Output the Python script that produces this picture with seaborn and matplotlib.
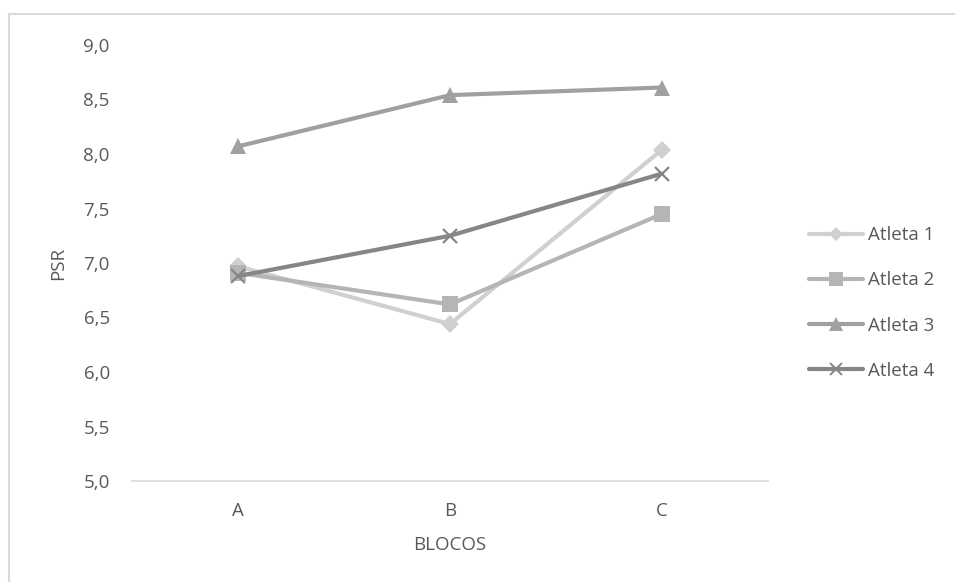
import numpy as np
import pandas as pd
import matplotlib
matplotlib.use("Agg")
import matplotlib.pyplot as plt
from matplotlib.ticker import FuncFormatter
from matplotlib.lines import Line2D
import seaborn as sns

#---- data ----#
blocos = ["A", "B", "C"]
atleta_1 = [6.97, 6.44, 8.04]
atleta_2 = [6.91, 6.62, 7.45]
atleta_3 = [8.07, 8.54, 8.61]
atleta_4 = [6.88, 7.25, 7.82]

nomes = ["Atleta 1", "Atleta 2", "Atleta 3", "Atleta 4"]
series = [atleta_1, atleta_2, atleta_3, atleta_4]

df = pd.DataFrame({
    "BLOCOS": blocos * 4,
    "PSR": atleta_1 + atleta_2 + atleta_3 + atleta_4,
    "atleta": [n for n in nomes for _ in blocos],
})

#---- style ----#
sns.set_style("white")
plt.rcParams["font.family"] = ["Open Sans", "DejaVu Sans"]
txt = "#595959"
fs = 13.5

cores = {"Atleta 1": "#d0d0d0", "Atleta 2": "#b5b5b5",
         "Atleta 3": "#a0a0a0", "Atleta 4": "#868686"}
marcadores = {"Atleta 1": "D", "Atleta 2": "s", "Atleta 3": "^", "Atleta 4": "x"}
tamanhos = {"Atleta 1": 9.5, "Atleta 2": 12, "Atleta 3": 12, "Atleta 4": 10}

fig = plt.figure(figsize=(9.55, 5.82), dpi=100)
ax = fig.add_axes([132/955, 101/582, 636/955, 436/582])

for n in nomes:
    sub = df[df["atleta"] == n]
    sns.lineplot(data=sub, x="BLOCOS", y="PSR", ax=ax, color=cores[n],
                 marker=marcadores[n], markersize=tamanhos[n],
                 markeredgewidth=1.6 if n == "Atleta 4" else 0,
                 markeredgecolor=cores[n], linewidth=3, label=n, legend=False)

#---- formatting ----#
ax.set_xlim(-0.5, 2.5)
ax.set_ylim(5, 9)
ax.set_yticks(np.arange(5, 9.01, 0.5))
ax.yaxis.set_major_formatter(FuncFormatter(lambda v, p: f"{v:.1f}".replace(".", ",")))
ax.tick_params(length=0, labelsize=fs, colors=txt)
ax.tick_params(axis="y", pad=16)
ax.tick_params(axis="x", pad=15)
ax.set_xlabel("BLOCOS", fontsize=fs, color=txt, labelpad=12)
ax.set_ylabel("PSR", fontsize=fs, color=txt, labelpad=12)
for s in ["left", "right", "top"]:
    ax.spines[s].set_visible(False)
ax.spines["bottom"].set_color("#d9d9d9")
ax.spines["bottom"].set_linewidth(1.2)

handles = [Line2D([0], [0], color=cores[n], lw=3, marker=marcadores[n],
                  markersize=tamanhos[n] * 0.8,
                  markeredgewidth=1.4 if n == "Atleta 4" else 0,
                  markeredgecolor=cores[n]) for n in nomes]
fig.legend(handles, nomes, loc="center left", bbox_to_anchor=(792/955, 1 - 303/582),
           frameon=False, fontsize=fs, labelcolor=txt, handlelength=2.9,
           handletextpad=0.25, labelspacing=1.45)

# chart area border
fig.add_artist(Line2D([9/955, 9/955], [0, 1 - 14/582], transform=fig.transFigure,
                      color="#d9d9d9", lw=1.5))
fig.add_artist(Line2D([9/955, 1], [1 - 14/582, 1 - 14/582], transform=fig.transFigure,
                      color="#d9d9d9", lw=1.5))

fig.savefig("out.png", dpi=100)
